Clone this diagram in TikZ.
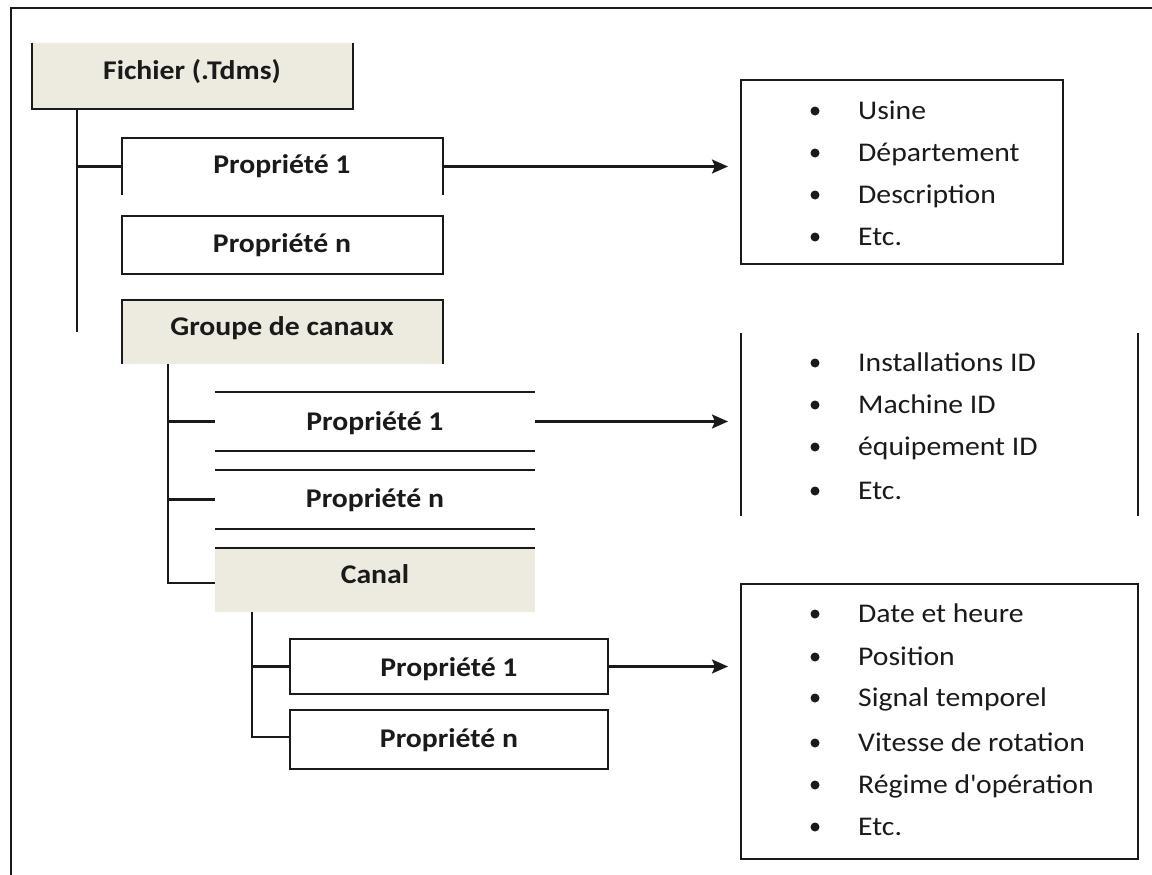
\documentclass[tikz,border=0pt]{standalone}
\usepackage{fontspec}
\setmainfont{Carlito}[FakeStretch=1.1]
\usetikzlibrary{arrows.meta}
\definecolor{beige}{HTML}{EDEAE0}
\definecolor{ink}{HTML}{1A1A1A}
\tikzset{
  boxn/.style 2 args={rectangle, inner sep=0pt, outer sep=0pt, minimum width=#1, minimum height=#2},
  lbl/.style={font=\bfseries\fontsize{27}{32}\selectfont, inner sep=0pt, text=ink, anchor=base},
  item/.style={font=\fontsize{27}{32}\selectfont, anchor=base west, inner sep=0pt, text=ink},
  bul/.style={circle, fill=ink, inner sep=0pt, minimum size=9pt},
  ln/.style={line width=2.2pt, draw=ink},
  arr/.style={ln, -{Stealth[length=16pt,width=14pt,inset=3pt]}, shorten >=13pt}
}
\begin{document}
\begin{tikzpicture}[x=1pt,y=-1pt]
\useasboundingbox (0,0) rectangle (1152,875);
% outer frame
\draw[line width=2.5pt, draw=ink] (11,875) -- (11,8) -- (1152,8);

% left column boxes
\node[boxn={321pt}{66pt}, fill=beige] (fich) at (192.5,76) {};
\node[boxn={321pt}{57pt}] (p1a) at (282.5,166.5) {};
\node[boxn={321pt}{58pt}] (pna) at (282.5,245) {};
\node[boxn={321pt}{64pt}, fill=beige] (grp) at (282.5,332) {};
\node[boxn={320pt}{59pt}] (p1b) at (375,421.5) {};
\node[boxn={320pt}{59pt}] (pnb) at (375,499.5) {};
\node[boxn={320pt}{64pt}, fill=beige] (canal) at (375,580) {};
\node[boxn={318pt}{55pt}] (p1c) at (449,666.5) {};
\node[boxn={318pt}{59pt}] (pnc) at (449,739.5) {};

% partial borders
\draw[ln] (fich.north west) -- (fich.south west) -- (fich.south east) -- (fich.north east);
\draw[ln] (p1a.south west) -- (p1a.north west) -- (p1a.north east) -- (p1a.south east);
\draw[ln] (pna.south west) rectangle (pna.north east);
\draw[ln] (grp.south west) -- (grp.north west) -- (grp.north east) -- (grp.south east);
\draw[ln] (p1b.north west) -- (p1b.north east);
\draw[ln] (p1b.south west) -- (p1b.south east);
\draw[ln] (pnb.north west) -- (pnb.north east);
\draw[ln] (pnb.south west) -- (pnb.south east);
\draw[ln] (canal.north west) -- (canal.north east);
\draw[ln] (p1c.south west) rectangle (p1c.north east);
\draw[ln] (pnc.south west) rectangle (pnc.north east);

% labels (baseline positions)
\node[lbl] (fichT) at (192,80) {Fichier (.Tdms)};
\node[lbl] (p1aT) at (282,173) {Propriété 1};
\node[lbl] (pnaT) at (282,252) {Propriété n};
\node[lbl] (grpT) at (282,335) {Groupe de canaux};
\node[lbl] (p1bT) at (375,430) {Propriété 1};
\node[lbl] (pnbT) at (375,507) {Propriété n};
\node[lbl] (canalT) at (375,583) {Canal};
\node[lbl] (p1cT) at (449,676) {Propriété 1};
\node[lbl] (pncT) at (449,747) {Propriété n};

% tree connectors
\coordinate (t1) at (77,332);
\draw[ln] (fich.south -| t1) -- (t1);
\draw[ln] (t1 |- p1a.west) -- (p1a.west);
\coordinate (t2) at (168,583);
\draw[ln] (grp.south -| t2) -- (t2) -- (t2 -| canal.west);
\draw[ln] (t2 |- p1b.west) -- (p1b.west);
\draw[ln] (t2 |- pnb.west) -- (pnb.west);
\coordinate (t3) at (252,737);
\draw[ln] (canal.south -| t3) -- (t3) -- (t3 -| pnc.west);
\draw[ln] (t3 |- p1c.west) -- (p1c.west);

% right boxes
\node[boxn={322pt}{184pt}] (r1) at (902,172) {};
\node[boxn={397pt}{183pt}] (r2) at (939.5,424.5) {};
\node[boxn={397pt}{275pt}] (r3) at (939.5,721.5) {};
\draw[ln] (r1.south west) rectangle (r1.north east);
\draw[ln] (r2.north west) -- (r2.south west);
\draw[ln] (r2.north east) -- (r2.south east);
\draw[ln] (r3.south west) rectangle (r3.north east);

% arrows
\draw[arr] (p1a.east) -- (r1.west |- p1a.east);
\draw[arr] (p1b.east) -- (r2.west |- p1b.east);
\draw[arr] (p1c.east) -- (r3.west |- p1c.east);

% list items
\foreach \y/\t [count=\i] in {111/Usine, 153/Département, 195/Description, 237/Etc.}{
  \node[bul] (b1\i) at (815,\y) {};
  \node[item] (i1\i) at (858,\y+8.5) {\t};
}
\foreach \y/\t [count=\i] in {363/Installations ID, 405/Machine ID, 447/équipement ID, 491/Etc.}{
  \node[bul] (b2\i) at (815,\y) {};
  \node[item] (i2\i) at (858,\y+8.5) {\t};
}
\foreach \y/\t [count=\i] in {614/Date et heure, 657/Position, 698/Signal temporel, 743/Vitesse de rotation, 785/Régime d\textquotesingle opération, 827/Etc.}{
  \node[bul] (b3\i) at (815,\y) {};
  \node[item] (i3\i) at (858,\y+8.5) {\t};
}
\end{tikzpicture}
\end{document}
